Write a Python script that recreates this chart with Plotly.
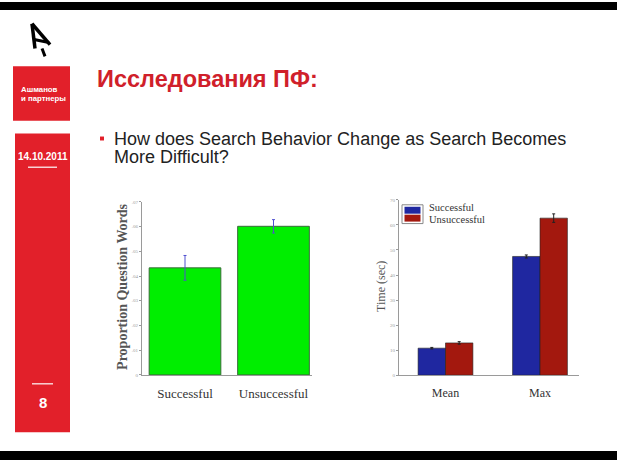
import plotly.graph_objects as go

W, H = 617, 463

# ---- data ----
left_categories = ["Successful", "Unsuccessful"]
left_values = [0.0433, 0.0601]
left_errors = [0.0050, 0.0027]
left_tickvals = [0, 0.01, 0.02, 0.03, 0.04, 0.05, 0.06, 0.07]
left_ticktext = ["0", ".01", ".02", ".03", ".04", ".05", ".06", ".07"]

right_categories = ["Mean", "Max"]
series_names = ["Successful", "Unsuccessful"]
successful_times = [10.8, 47.4]
unsuccessful_times = [12.9, 62.7]
successful_err = [0.3, 0.6]
unsuccessful_err = [0.5, 1.7]
right_tickvals = [0, 10, 20, 30, 40, 50, 60, 70]

title_text = "Исследования ПФ:"
bullet_lines = ["How does Search Behavior Change as Search Becomes", "More Difficult?"]
date_text = "14.10.2011"
page_text = "8"
brand_lines = ["Ашманов", "и партнеры"]

RED = "#e2202a"
TITLE_RED = "#d0202a"
BLUE = "#1f27a0"
DARK_RED = "#a3180e"
GREEN = "#00ee00"


def px(x):
    return x / W


def py(y):
    return 1 - y / H


fig = go.Figure()

# left chart
fig.add_trace(go.Bar(
    x=list(range(len(left_categories))), y=left_values,
    width=0.81,
    marker=dict(color=GREEN, line=dict(color="#3a6a3a", width=1)),
    error_y=dict(type="data", array=left_errors, color="#5050d0", thickness=1, width=1.5),
    xaxis="x", yaxis="y", showlegend=False,
))

# right chart
colors = [BLUE, DARK_RED]
vals = [successful_times, unsuccessful_times]
errs = [successful_err, unsuccessful_err]
for i, name in enumerate(series_names):
    fig.add_trace(go.Bar(
        x=list(range(len(right_categories))), y=vals[i], name=name,
        width=0.29, offset=-0.29 + 0.29 * i,
        marker=dict(color=colors[i], line=dict(color="#222222", width=0.6)),
        error_y=dict(type="data", array=errs[i], color="#222222", thickness=1, width=1.5),
        xaxis="x2", yaxis="y2", showlegend=False,
    ))

axis_common = dict(showgrid=False, zeroline=False, showline=True, linecolor="#9a9a9a", linewidth=1)

# left axes: category c at pixel 185 + 88.5*c ; x axis 142..312
c_lo = (142 - 185) / 88.5
c_hi = (312 - 185) / 88.5
fig.update_layout(
    xaxis=dict(domain=[px(142), px(312)], range=[c_lo, c_hi], anchor="y",
               tickvals=list(range(len(left_categories))), ticktext=left_categories,
               ticks="outside", ticklen=6, tickcolor="rgba(0,0,0,0)",
               tickfont=dict(family="Liberation Serif", size=13, color="#333333"), **axis_common),
    yaxis=dict(domain=[py(377), py(202)], range=[0, 0.07], anchor="x",
               tickvals=left_tickvals, ticktext=left_ticktext,
               ticks="outside", ticklen=2, tickcolor="#9a9a9a",
               tickfont=dict(family="Liberation Serif", size=5, color="#9a9a9a"), **axis_common),
)

r_lo = (399 - 445.5) / 94.5
r_hi = (579 - 445.5) / 94.5
fig.update_layout(
    xaxis2=dict(domain=[px(399), px(579)], range=[r_lo, r_hi], anchor="y2",
                tickvals=list(range(len(right_categories))), ticktext=right_categories,
                ticks="outside", ticklen=6, tickcolor="rgba(0,0,0,0)",
                tickfont=dict(family="Liberation Serif", size=12, color="#333333"), **axis_common),
    yaxis2=dict(domain=[py(377.3), py(200)], range=[0, 70], anchor="x2",
                tickvals=right_tickvals,
                ticks="outside", ticklen=2, tickcolor="#9a9a9a",
                tickfont=dict(family="Liberation Serif", size=5, color="#9a9a9a"), **axis_common),
)

shapes = []
annotations = []


def rect(x0, y0, x1, y1, fill, line=None, lw=0):
    shapes.append(dict(type="rect", xref="paper", yref="paper",
                       x0=px(x0), x1=px(x1), y0=py(y1), y1=py(y0),
                       fillcolor=fill, line=dict(color=line or fill, width=lw), layer="below"))


def line(x0, y0, x1, y1, color, w):
    shapes.append(dict(type="line", xref="paper", yref="paper",
                       x0=px(x0), x1=px(x1), y0=py(y0), y1=py(y1),
                       line=dict(color=color, width=w)))


def text(x, y, s, size, color, family="Liberation Sans", xanchor="left", angle=0, bold=False):
    if bold:
        s = "<b>" + s + "</b>"
    annotations.append(dict(xref="paper", yref="paper", x=px(x), y=py(y), text=s,
                            showarrow=False, xanchor=xanchor, yanchor="middle", textangle=angle,
                            font=dict(family=family, size=size, color=color)))


# black bars top/bottom
rect(0, 0, W, 8, "black")
rect(0, 454, W, H, "black")

# logo (cursor-like mark)
line(32, 22, 35, 47, "black", 3.5)
line(32, 22, 50, 43, "black", 3.5)
line(34, 38, 49, 41, "black", 3)
line(42, 47, 45, 55, "black", 3)

# red brand box
rect(13, 65, 70, 120, RED)
text(19, 88, brand_lines[0], 7.8, "white", bold=True)
text(19, 98, brand_lines[1], 7.8, "white", bold=True)

# side bar
rect(15, 133, 70, 435, RED)
text(42.5, 156, date_text, 10, "white", xanchor="center", bold=True)
line(28, 167, 57, 167, "white", 1.2)
line(32, 386, 53, 386, "white", 1.2)
text(42.5, 405, page_text, 15, "white", xanchor="center", bold=True)

# title
text(95, 78, title_text, 23.5, TITLE_RED, bold=True)

# bullet
rect(100, 136, 104, 140, RED)
text(112, 138, bullet_lines[0], 18, "#222222")
text(112, 157, bullet_lines[1], 18, "#222222")

# axis titles
text(123, 288, "Proportion Question Words", 14, "#555555", family="Liberation Serif", xanchor="center", angle=-90, bold=True)
text(381, 288, "Time (sec)", 12, "#555555", family="Liberation Serif", xanchor="center", angle=-90)

# legend (manual)
rect(402, 205, 423, 224, "white", line="#888888", lw=1)
rect(404.5, 207, 420.5, 214, BLUE)
rect(404.5, 215, 420.5, 222, DARK_RED)
text(427, 208, series_names[0], 10.5, "#333333", family="Liberation Serif")
text(427, 220, series_names[1], 10.5, "#333333", family="Liberation Serif")

fig.update_layout(
    width=W, height=H, margin=dict(l=0, r=0, t=0, b=0),
    paper_bgcolor="white", plot_bgcolor="rgba(0,0,0,0)",
    shapes=shapes, annotations=annotations, showlegend=False,
)

fig.write_html("out.html")
